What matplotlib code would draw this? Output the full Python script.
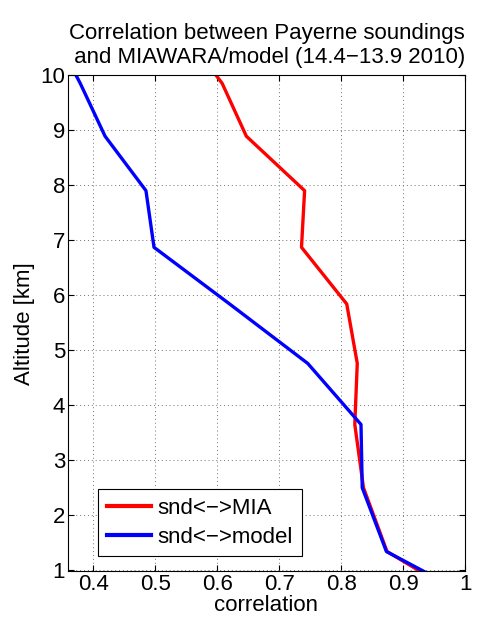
import matplotlib
matplotlib.use("Agg")
from matplotlib import pyplot as plt

plt.rcParams['font.family'] = ['Liberation Sans', 'DejaVu Sans']

# altitude levels [km]
alt = [10.0, 9.85, 8.89, 7.9, 6.87, 5.84, 4.76, 3.65, 2.5, 1.34, 0.97]
# correlation profiles
corr_mia = [0.598, 0.608, 0.647, 0.741, 0.736, 0.809, 0.826, 0.822, 0.836, 0.874, 0.929]
corr_model = [0.372, 0.379, 0.419, 0.485, 0.498, 0.620, 0.746, 0.832, 0.834, 0.873, 0.935]

xticks = [0.4, 0.5, 0.6, 0.7, 0.8, 0.9, 1]
xticklabels = ["0.4", "0.5", "0.6", "0.7", "0.8", "0.9", "1"]
yticks = [1, 2, 3, 4, 5, 6, 7, 8, 9, 10]

fs = 16

fig = plt.figure(figsize=(4.78, 6.21), dpi=100)
ax = fig.add_axes([0.142, 0.080, 0.831, 0.799])

ax.plot(corr_mia, alt, color="red", lw=2.4, label="snd<\u2212>MIA")
ax.plot(corr_model, alt, color="blue", lw=2.4, label="snd<\u2212>model")

ax.set_xlim(0.359, 1.0)
ax.set_ylim(0.98, 10)
ax.set_xticks(xticks)
ax.set_xticklabels(xticklabels)
ax.set_yticks(yticks)
ax.tick_params(direction="in", top=True, right=True, labelsize=fs, length=4, pad=2)
ax.grid(True, linestyle=(0, (1, 3)), color="0.45", lw=0.7)

ax.set_xlabel("correlation", fontsize=fs, labelpad=0)
ax.set_ylabel("Altitude [km]", fontsize=fs, labelpad=4)
ax.set_title("Correlation between Payerne soundings\n and MIAWARA/model (14.4\u221213.9 2010)",
             fontsize=fs, pad=9, linespacing=1.15)

leg = ax.legend(loc="lower left", bbox_to_anchor=(0.075, 0.03), borderaxespad=0,
                fontsize=fs, fancybox=False, framealpha=1, edgecolor="black",
                handlelength=2.0, handletextpad=0.3, borderpad=0.4, labelspacing=0.35)
leg.get_frame().set_linewidth(0.8)
for line in leg.get_lines():
    line.set_linewidth(3)

fig.savefig("out.png", dpi=100)
